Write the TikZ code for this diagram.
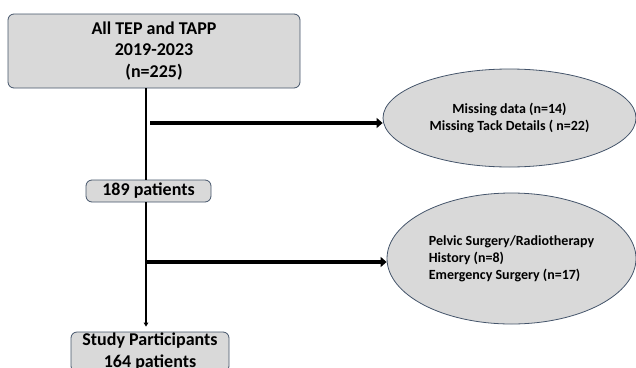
\documentclass[tikz,border=0pt]{standalone}
\usepackage{fontspec}
\setmainfont{Carlito}
\usetikzlibrary{shapes.geometric,arrows.meta}
\definecolor{boxfill}{RGB}{217,217,217}
\definecolor{edge}{RGB}{68,84,106}
\begin{document}
\begin{tikzpicture}[x=1pt,y=-1pt,
  box/.style={draw=edge,fill=boxfill,rounded corners=6pt,line width=0.8pt,inner sep=0pt,
    font=\fontsize{18}{21.5}\selectfont\bfseries,align=center},
  oval/.style={ellipse,draw=edge,fill=boxfill,line width=0.8pt,inner sep=0pt,
    font=\fontsize{14}{17}\selectfont\bfseries},
  trunkline/.style={line width=1.5pt},
  bigarrow/.style={line width=3.5pt,-{Triangle[length=6pt,width=10pt]}}]
\useasboundingbox (0,0) rectangle (636,367);
\clip (0,0) rectangle (636,367);
\node[box, minimum width=292pt, minimum height=74pt] (all) at (154,51)
  {All TEP and TAPP\\2019-2023\\(n=225)};
\node[box, minimum width=125pt, minimum height=22pt] (p189) at (148.5,191) {189 patients};
\node[box, minimum width=158pt, minimum height=40pt, font=\fontsize{18}{22}\selectfont\bfseries] (study) at (150,352)
  {Study Participants\\164 patients};
\node[oval, align=center, minimum width=253pt, minimum height=98pt] (ex1) at (509.5,118)
  {Missing data (n=14)\\Missing Tack Details ( n=22)};
\node[oval, align=left, minimum width=249pt, minimum height=131pt] (ex2) at (511.5,258.5)
  {Pelvic Surgery/Radiotherapy\\History (n=8)\\Emergency Surgery (n=17)};
\coordinate (trunk) at (146,0);
\coordinate (s1) at (150,123);
\coordinate (s2) at (146,262);
\draw[trunkline] (all.south -| trunk) -- (p189.north -| trunk);
\draw[trunkline,-{Triangle[length=4pt,width=4.5pt]},shorten >=5pt] (p189.south -| trunk) -- (study.north -| trunk);
\draw[bigarrow] (s1) -- (s1 -| ex1.west);
\draw[bigarrow] (s2) -- (s2 -| ex2.west);
\end{tikzpicture}
\end{document}
